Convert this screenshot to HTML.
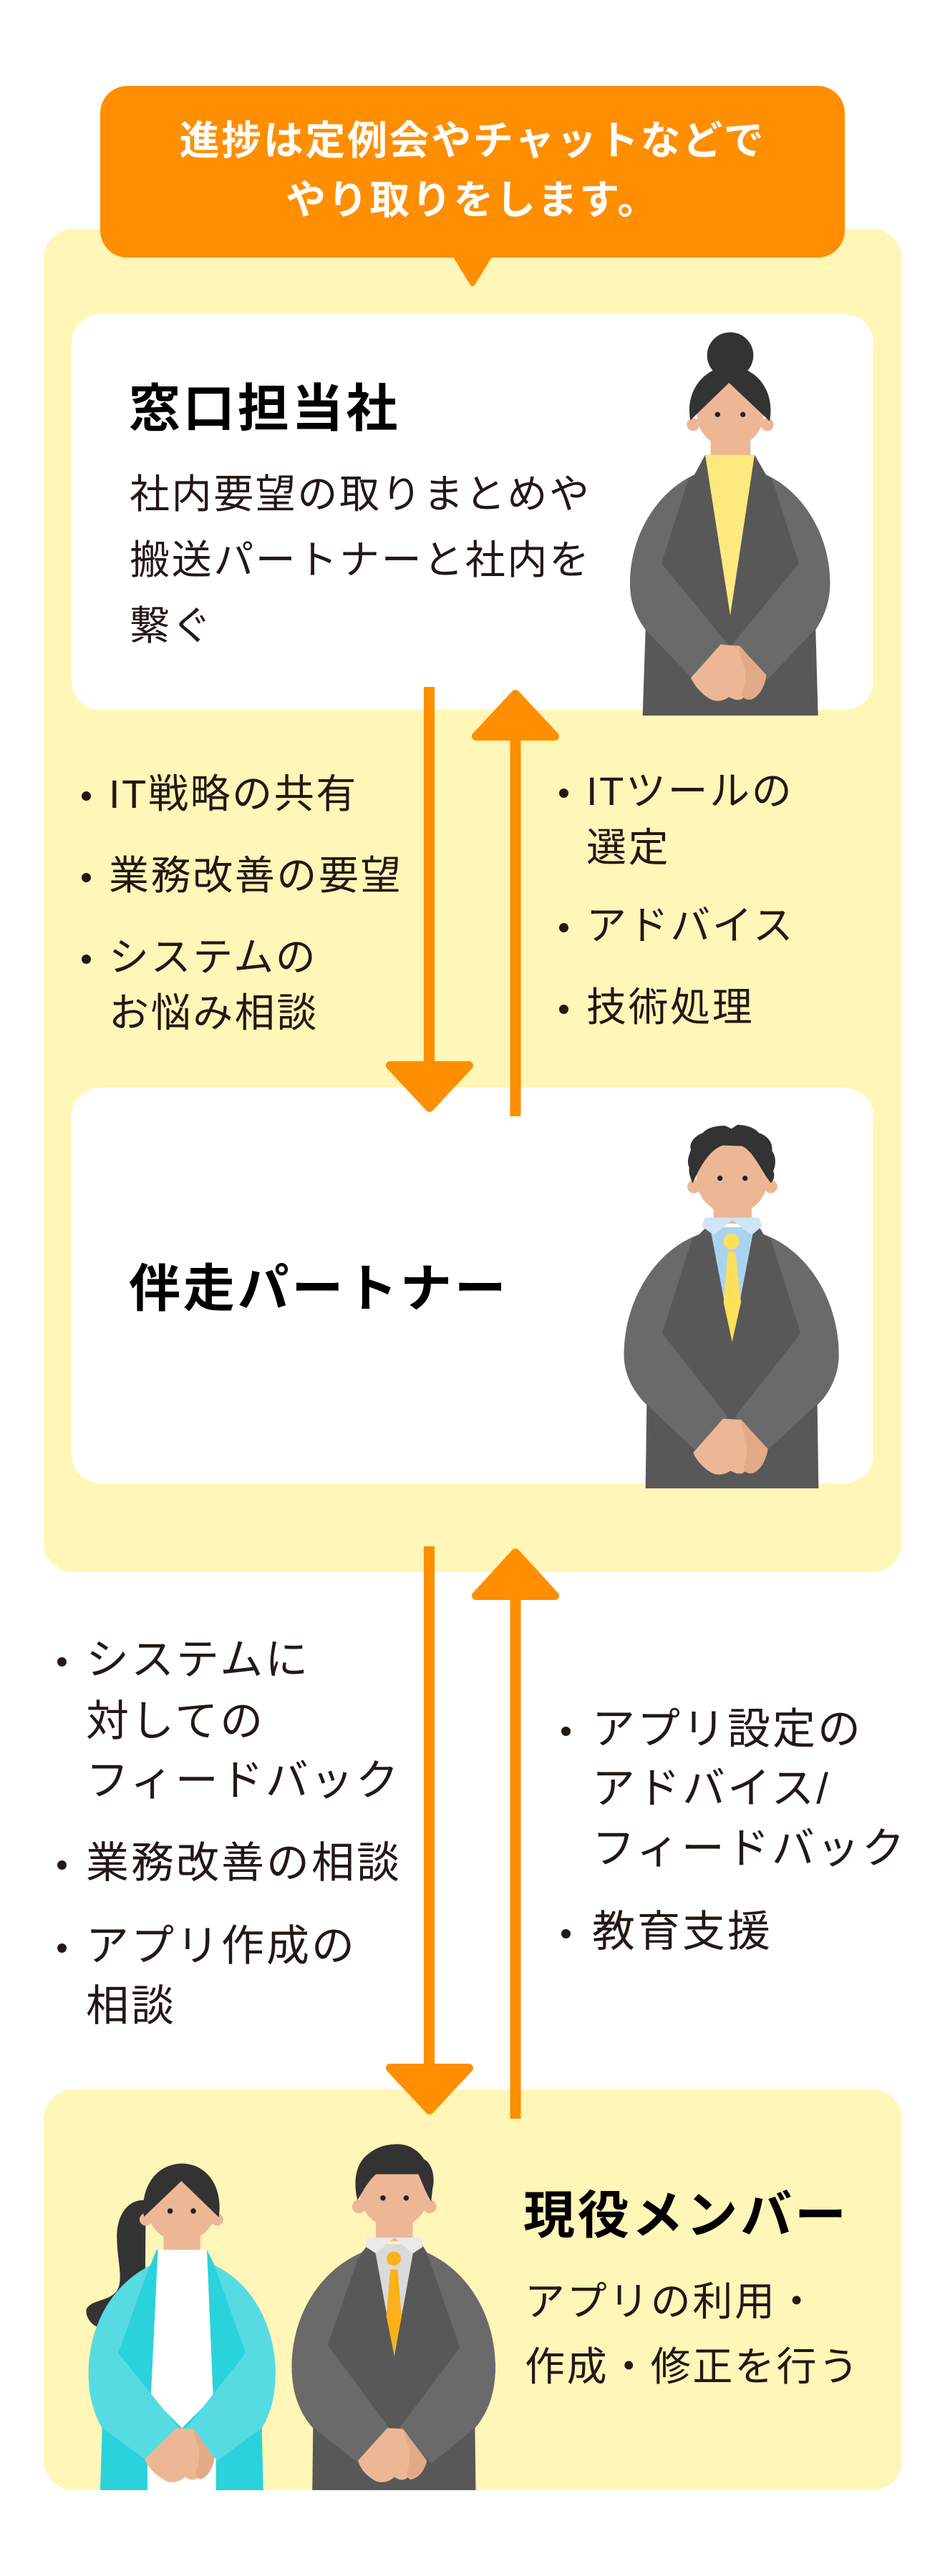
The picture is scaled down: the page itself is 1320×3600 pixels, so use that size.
<!DOCTYPE html>
<html lang="ja">
<head>
<meta charset="utf-8">
<style>
  html,body{margin:0;padding:0;}
  body{width:1320px;height:3600px;position:relative;background:#ffffff;overflow:hidden;}
  svg.bg{position:absolute;left:0;top:0;}
  .t{position:absolute;white-space:nowrap;font-family:"Liberation Sans","Noto Sans CJK JP",sans-serif;color:#231815;}
  .b56{font-size:56px;line-height:56px;letter-spacing:2.6px;}
  .b60{font-size:60px;line-height:60px;letter-spacing:3px;}
  .h{font-size:72px;line-height:72px;letter-spacing:3.8px;font-weight:700;color:#000;}
  .bub{font-size:56px;line-height:56px;letter-spacing:2.6px;font-weight:700;color:#fff;left:140px;width:1040px;text-align:center;}
  .d{position:absolute;width:13px;height:13px;border-radius:50%;background:#231815;}
</style>
</head>
<body>
<svg class="bg" width="1320" height="3600" viewBox="0 0 1320 3600" xmlns="http://www.w3.org/2000/svg">
  <rect x="61" y="320" width="1199" height="1877" rx="42" fill="#FFF6B7"/>
  <rect x="140" y="120" width="1040" height="240" rx="38" fill="#FF8E00"/>
  <path d="M631,356 L689,356 L664,397 Q660,403 656,397 Z" fill="#FF8E00"/>
  <rect x="100" y="439" width="1120" height="553" rx="40" fill="#FFFFFF"/>
  <rect x="100" y="1520" width="1120" height="553" rx="40" fill="#FFFFFF"/>
  <rect x="61" y="2920" width="1199" height="560" rx="42" fill="#FFF6B7"/>

  <!-- Person 1 (woman with bun) -->
  <g transform="translate(850 470) scale(0.33333)">
    <circle cx="510" cy="80" r="97" fill="#333333"/>
    <circle cx="355" cy="370" r="27" fill="#EDB796"/>
    <circle cx="665" cy="370" r="27" fill="#EDB796"/>
    <rect x="428" y="420" width="167" height="90" fill="#EDB796"/>
    <circle cx="510" cy="325" r="140" fill="#EDB796"/>
    <path d="M343,352 L505,195 L675,356 C700,230 620,128 510,126 C400,128 320,230 343,352 Z" fill="#333333"/>
    <circle cx="457" cy="328" r="11" fill="#222"/>
    <circle cx="563" cy="328" r="11" fill="#222"/>
    <path d="M405,497 L612,497 L660,580 C830,660 928,850 928,1035 C928,1120 900,1180 868,1230 L878,1590 L143,1590 L155,1230 C118,1180 90,1120 90,1035 C90,850 190,660 360,580 Z" fill="#585858"/>
    <path d="M360,580 C190,660 90,850 90,1035 C90,1120 118,1180 160,1235 L355,1440 L500,1290 L222,952 L335,598 Z" fill="#6A6A6A"/>
    <path d="M660,580 C830,660 928,850 928,1035 C928,1120 900,1180 860,1235 L665,1440 L520,1290 L798,952 L685,598 Z" fill="#6A6A6A"/>
    <polygon points="405,497 612,497 510,1170" fill="#FDE97E"/>
    <path d="M345,1432 L470,1292 L548,1298 C585,1330 600,1370 585,1405 C595,1450 590,1500 560,1520 C540,1530 520,1520 505,1512 C480,1530 450,1535 425,1520 C390,1500 360,1465 345,1432 Z" fill="#EDB796"/>
    <path d="M548,1298 L662,1420 C655,1470 630,1510 600,1522 C575,1528 560,1515 560,1495 C575,1450 580,1410 565,1380 C555,1350 545,1320 548,1298 Z" fill="#E3AA88"/>
  </g>

  <!-- Person 2 (man, card 2) -->
  <g transform="translate(850 1550) scale(0.33333)">
    <circle cx="358" cy="325" r="28" fill="#EDB796"/>
    <circle cx="680" cy="325" r="28" fill="#EDB796"/>
    <rect x="440" y="390" width="160" height="90" fill="#EDB796"/>
    <circle cx="518" cy="290" r="150" fill="#EDB796"/>
    <path d="M352,312 C345,290 335,270 338,245 C325,215 340,190 345,170 C335,140 365,110 395,100 C410,80 450,68 490,70 L515,82 L540,66 C580,66 615,80 630,100 C665,110 690,140 685,175 C705,200 700,240 690,260 C700,280 690,300 680,310 C640,260 610,180 560,155 L480,152 C420,170 380,250 352,312 Z" fill="#333333"/>
    <circle cx="467" cy="290" r="11" fill="#222"/>
    <circle cx="572" cy="290" r="11" fill="#222"/>
    <path d="M405,500 L635,500 L650,525 C850,600 965,820 965,1030 C965,1120 920,1200 875,1240 L880,1590 L155,1590 L160,1240 C110,1190 65,1120 65,1030 C65,820 180,600 380,525 Z" fill="#585858"/>
    <path d="M380,525 C180,600 65,820 65,1030 C65,1120 110,1190 160,1240 L380,1445 L500,1290 L225,940 L350,545 Z" fill="#6A6A6A"/>
    <path d="M650,525 C850,600 965,820 965,1030 C965,1120 920,1200 870,1240 L650,1445 L530,1290 L805,940 L680,545 Z" fill="#6A6A6A"/>
    <polygon points="425,495 610,495 518,975" fill="#A9D4F0"/>
    <polygon points="405,455 630,455 645,490 600,528 518,465 440,528 390,490" fill="#CFE6F7"/>
    <circle cx="515" cy="555" r="33" fill="#FDE15A"/>
    <polygon points="500,600 532,600 555,810 518,975 482,810" fill="#FDE15A"/>
    <path d="M355,1440 L480,1298 L555,1302 C592,1335 605,1375 592,1410 C602,1455 596,1505 566,1524 C546,1534 526,1524 511,1516 C486,1534 456,1538 431,1524 C396,1504 366,1470 355,1440 Z" fill="#EDB796"/>
    <path d="M555,1302 L668,1425 C660,1475 636,1514 606,1526 C581,1532 566,1519 566,1499 C581,1454 586,1414 571,1384 Z" fill="#E3AA88"/>
  </g>

  <defs>
    <clipPath id="bclip"><rect x="61" y="2920" width="1199" height="560" rx="42"/></clipPath>
  </defs>
  <g clip-path="url(#bclip)">
  <g transform="translate(100 2980) scale(0.39541)">
    <path d="M262,240 C200,235 160,290 160,370 C160,450 185,520 160,560 C130,600 70,590 52,625 C48,660 80,690 105,690 C160,660 220,600 260,520 Z" fill="#333333"/>
    <circle cx="262" cy="308" r="22" fill="#EDB796"/>
    <circle cx="514" cy="308" r="22" fill="#EDB796"/>
    <rect x="325" y="350" width="130" height="75" fill="#EDB796"/>
    <circle cx="388" cy="262" r="124" fill="#EDB796"/>
    <path d="M256,298 L388,172 L520,300 C535,200 485,112 390,110 C295,112 240,200 256,298 Z" fill="#333333"/>
    <circle cx="348" cy="278" r="9.5" fill="#222"/>
    <circle cx="430" cy="278" r="9.5" fill="#222"/>
    <path d="M300,415 L478,415 L505,470 C650,540 720,700 720,850 C720,935 700,1000 672,1045 L678,1300 L100,1300 L108,1045 C78,995 60,930 60,850 C60,700 130,545 278,470 Z" fill="#2AD2DC"/>
    <polygon points="305,415 478,415 500,935 390,1045 280,935" fill="#FFFFFF"/>
    <rect x="268" y="1120" width="242" height="180" fill="#FFFFFF"/>
    <path d="M278,470 C130,545 60,700 60,850 C60,930 78,995 110,1045 L265,1160 L378,1045 L165,780 L268,492 Z" fill="#57DBE2"/>
    <path d="M505,470 C650,540 720,700 720,850 C720,935 700,1000 672,1045 L515,1160 L405,1045 L615,780 L512,492 Z" fill="#57DBE2"/>
    <path d="M258,1155 L370,1045 L430,1048 C460,1080 470,1110 460,1140 C470,1180 460,1215 440,1225 C425,1232 410,1225 400,1218 C380,1238 350,1242 330,1230 C295,1210 270,1185 258,1155 Z" fill="#EDB796"/>
    <path d="M430,1048 L505,1150 C500,1190 480,1215 460,1225 C445,1228 438,1215 440,1200 C452,1165 455,1130 445,1105 Z" fill="#E3AA88"/>

    <circle cx="1015" cy="262" r="24" fill="#EDB796"/>
    <circle cx="1265" cy="262" r="24" fill="#EDB796"/>
    <rect x="1075" y="300" width="130" height="85" fill="#EDB796"/>
    <circle cx="1140" cy="215" r="122" fill="#EDB796"/>
    <path d="M1010,240 C995,180 1000,110 1050,75 C1080,50 1120,40 1160,42 C1200,45 1230,70 1245,95 C1275,110 1285,160 1275,200 L1270,245 C1250,210 1235,170 1225,148 L1075,148 C1050,170 1030,205 1010,240 Z" fill="#333333"/>
    <circle cx="1100" cy="232" r="9.5" fill="#222"/>
    <circle cx="1182" cy="232" r="9.5" fill="#222"/>
    <path d="M1045,400 L1240,400 L1255,425 C1410,495 1497,660 1497,830 C1497,925 1468,995 1425,1045 L1428,1300 L850,1300 L853,1045 C808,995 778,925 778,830 C778,660 865,495 1025,425 Z" fill="#585858"/>
    <path d="M1025,425 C865,495 778,660 778,830 C778,925 808,995 855,1045 L1015,1170 L1122,1045 L905,752 L1012,445 Z" fill="#6A6A6A"/>
    <path d="M1255,425 C1410,495 1497,660 1497,830 C1497,925 1468,995 1425,1045 L1270,1170 L1158,1045 L1372,760 L1262,445 Z" fill="#6A6A6A"/>
    <polygon points="1068,395 1212,395 1140,790" fill="#DADADA"/>
    <polygon points="1040,372 1240,372 1240,405 1205,428 1140,372 1075,428 1040,405" fill="#EAEAEA"/>
    <circle cx="1138" cy="446" r="25" fill="#FBB117"/>
    <polygon points="1126,485 1152,485 1166,650 1139,785 1112,650" fill="#FBB117"/>
    <path d="M1012,1160 L1115,1045 L1170,1048 C1200,1080 1210,1115 1200,1145 C1210,1185 1200,1215 1180,1225 C1165,1232 1150,1225 1140,1218 C1120,1238 1090,1242 1070,1230 C1040,1212 1020,1190 1012,1160 Z" fill="#EDB796"/>
    <path d="M1170,1048 L1255,1160 C1248,1195 1228,1218 1205,1226 C1190,1230 1183,1218 1185,1200 C1195,1165 1198,1130 1188,1105 Z" fill="#E3AA88"/>
  </g>
  </g>

  <g fill="#FF8E00" stroke="#FF8E00" stroke-linejoin="round">
    <rect x="592" y="960" width="15" height="540" stroke="none"/>
    <path d="M545,1489 L655,1489 L600,1548 Z" stroke-width="12"/>
    <rect x="712.5" y="1030" width="15" height="530" stroke="none"/>
    <path d="M665,1029 L775,1029 L720,970 Z" stroke-width="12"/>
    <rect x="592" y="2161" width="15" height="735" stroke="none"/>
    <path d="M545,2890 L655,2890 L600,2949 Z" stroke-width="12"/>
    <rect x="712.5" y="2231" width="15" height="730" stroke="none"/>
    <path d="M665,2230 L775,2230 L720,2170 Z" stroke-width="12"/>
  </g>
</svg>

<div class="t bub" style="top:169px;">進捗は定例会やチャットなどで</div>
<div class="t bub" style="top:252px;">やり取りをします。</div>

<div class="t h" style="left:180px;top:536px;">窓口担当社</div>
<div class="t b56" style="left:181px;top:663px;">社内要望の取りまとめや</div>
<div class="t b56" style="left:181px;top:755px;">搬送パートナーと社内を</div>
<div class="t b56" style="left:181px;top:847px;">繋ぐ</div>

<div class="d" style="left:114px;top:1106px;"></div>
<div class="t b56" style="left:152px;top:1082px;">IT戦略の共有</div>
<div class="d" style="left:114px;top:1220px;"></div>
<div class="t b56" style="left:152px;top:1196px;">業務改善の要望</div>
<div class="d" style="left:114px;top:1334px;"></div>
<div class="t b56" style="left:152px;top:1310px;">システムの</div>
<div class="t b56" style="left:152px;top:1388px;">お悩み相談</div>

<div class="d" style="left:781px;top:1102px;"></div>
<div class="t b56" style="left:819px;top:1078px;">ITツールの</div>
<div class="t b56" style="left:819px;top:1157px;">選定</div>
<div class="d" style="left:781px;top:1290px;"></div>
<div class="t b56" style="left:819px;top:1266px;">アドバイス</div>
<div class="d" style="left:781px;top:1404px;"></div>
<div class="t b56" style="left:819px;top:1380px;">技術処理</div>

<div class="t h" style="left:180px;top:1766px;">伴走パートナー</div>

<div class="d" style="left:80px;top:2316px;"></div>
<div class="t b60" style="left:120px;top:2290px;">システムに</div>
<div class="t b60" style="left:120px;top:2376px;">対しての</div>
<div class="t b60" style="left:120px;top:2459px;">フィードバック</div>
<div class="d" style="left:80px;top:2600px;"></div>
<div class="t b60" style="left:120px;top:2574px;">業務改善の相談</div>
<div class="d" style="left:80px;top:2716px;"></div>
<div class="t b60" style="left:120px;top:2690px;">アプリ作成の</div>
<div class="t b60" style="left:120px;top:2774px;">相談</div>

<div class="d" style="left:784px;top:2413px;"></div>
<div class="t b60" style="left:827px;top:2387px;">アプリ設定の</div>
<div class="t b60" style="left:827px;top:2470px;">アドバイス/</div>
<div class="t b60" style="left:827px;top:2554px;">フィードバック</div>
<div class="d" style="left:784px;top:2696px;"></div>
<div class="t b60" style="left:827px;top:2670px;">教育支援</div>

<div class="t h" style="left:731px;top:3061px;">現役メンバー</div>
<div class="t b56" style="left:733px;top:3189px;">アプリの利用・</div>
<div class="t b56" style="left:733px;top:3280px;">作成・修正を行う</div>
</body>
</html>
